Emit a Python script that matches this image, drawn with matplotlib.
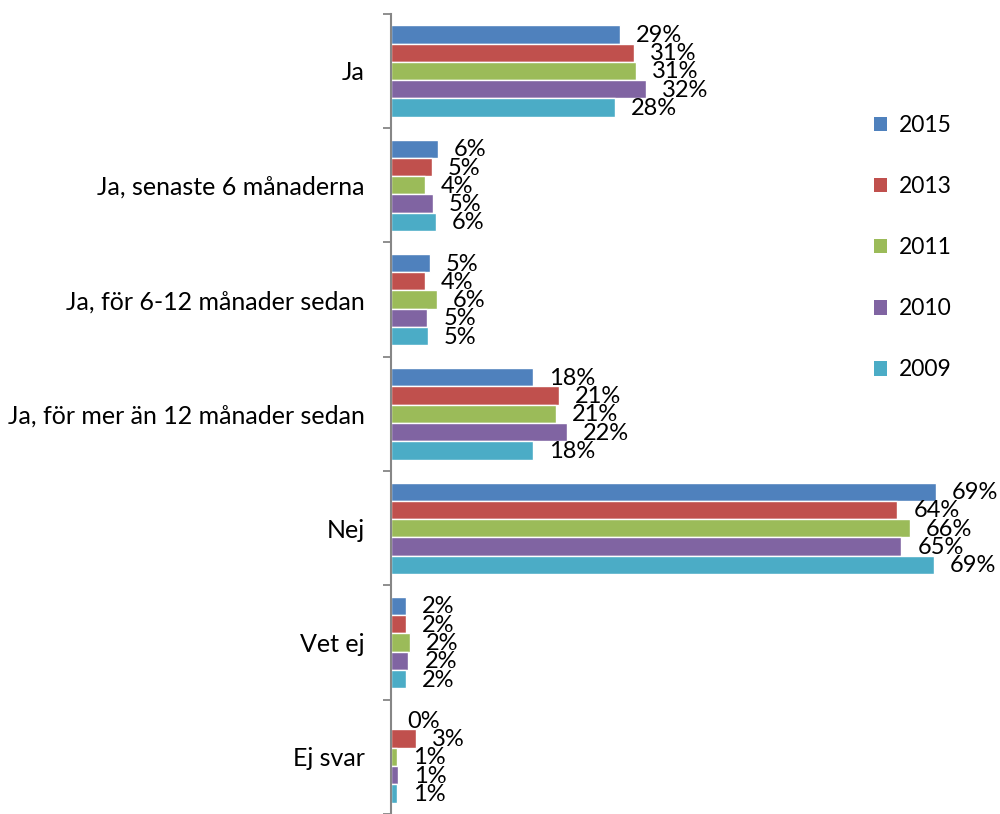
import matplotlib
matplotlib.use("Agg")
import matplotlib.pyplot as plt
import numpy as np
from matplotlib.patches import Patch

plt.rcParams['font.family'] = ['Lato', 'DejaVu Sans']

categories = ["Ja", "Ja, senaste 6 månaderna", "Ja, för 6-12 månader sedan",
              "Ja, för mer än 12 månader sedan", "Nej", "Vet ej", "Ej svar"]
years = ["2015", "2013", "2011", "2010", "2009"]

# percent per category
v2015 = [29.0, 5.9, 4.9, 18.0, 69.0, 1.9, 0.0]
v2013 = [30.8, 5.2, 4.3, 21.3, 64.1, 1.9, 3.2]
v2011 = [31.0, 4.3, 5.8, 20.9, 65.7, 2.4, 0.8]
v2010 = [32.3, 5.3, 4.6, 22.3, 64.6, 2.2, 0.85]
v2009 = [28.4, 5.7, 4.7, 18.0, 68.7, 1.9, 0.7]

colors = ["#4F81BD", "#C0504D", "#9BBB59", "#8064A2", "#4BACC6"]

fig = plt.figure(figsize=(10, 8.14), dpi=100)
ax = fig.add_axes([0.391, 0.0, 0.609, 0.983])

y = np.arange(len(categories))
slot = 0.16
series = [v2015, v2013, v2011, v2010, v2009]
for j, (vals, col) in enumerate(zip(series, colors)):
    yy = y + (j - 2) * slot
    ax.barh(yy, vals, height=slot, color=col, edgecolor="white", linewidth=1.0)
    for yi, v in zip(yy, vals):
        ax.annotate(f"{round(v):d}%", xy=(v, yi), xytext=(16, -1),
                    textcoords="offset pixels", ha="left", va="center",
                    fontsize=17)

ax.set_xlim(0, 77.1)
ax.set_ylim(len(categories) - 0.5, -0.5)
ax.set_xticks([])
ax.set_yticks(y)
ax.set_yticklabels(categories, fontsize=18)
ax.set_yticks(np.arange(len(categories) + 1) - 0.5, minor=True)
ax.tick_params(axis="y", which="major", length=0, pad=19)
ax.tick_params(axis="y", which="minor", length=6, width=1.3, color="#868686")
for s in ["top", "right", "bottom"]:
    ax.spines[s].set_visible(False)
ax.spines["left"].set_color("#868686")
ax.spines["left"].set_linewidth(1.5)

handles = [Patch(facecolor=c, edgecolor="none") for c in colors]
fig.legend(handles, years, loc="upper left", bbox_to_anchor=(0.853, 0.884),
           frameon=False, fontsize=16.5, handlelength=0.6, handleheight=0.6,
           handletextpad=0.5, labelspacing=1.75)

fig.savefig("out.png", dpi=100)
